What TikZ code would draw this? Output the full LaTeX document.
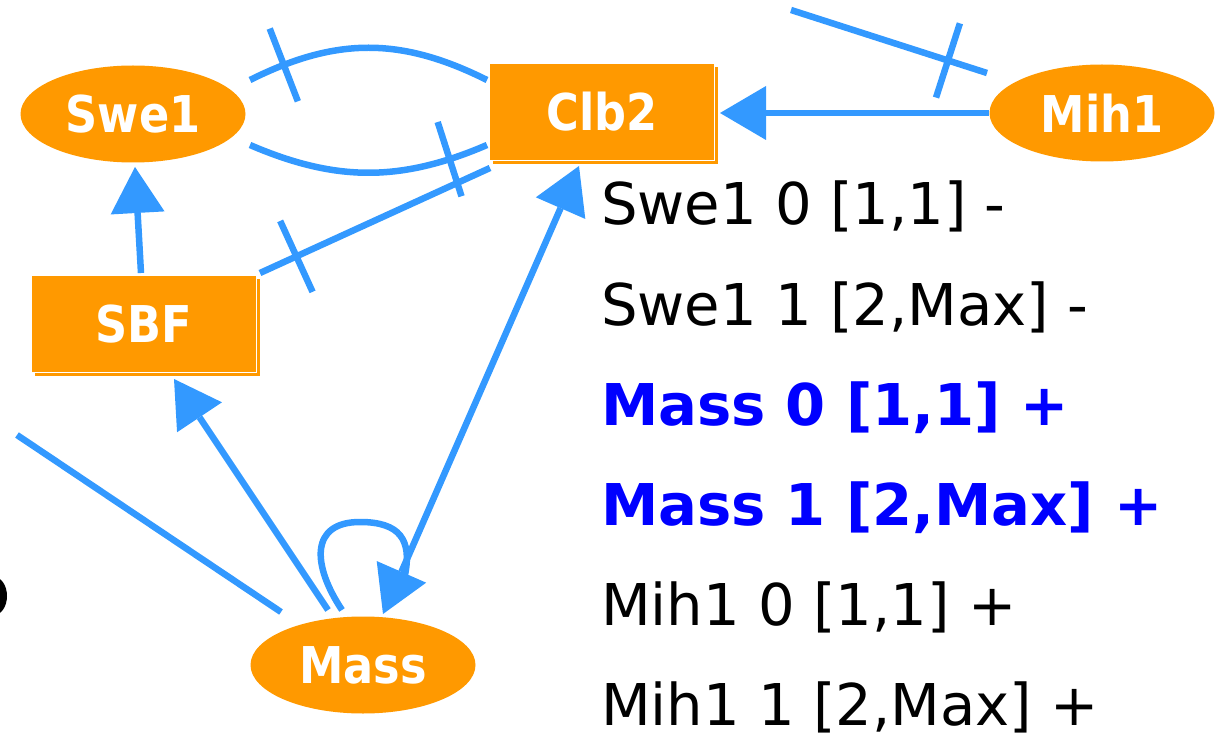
\documentclass[tikz,border=0pt]{standalone}
\usepackage{fontspec}
\setmainfont{DejaVu Sans}
\newfontfamily\labelfont{DejaVu Sans}[FakeStretch=0.88]
\usetikzlibrary{arrows.meta,shapes.geometric,shadows,decorations.markings}

\definecolor{gblue}{HTML}{3399FF}
\definecolor{gorange}{HTML}{FF9900}

\begin{document}
\begin{tikzpicture}[x=1pt,y=-1pt,
  >={Triangle[length=46pt,width=54pt,line width=0pt]},
  labeltext/.style={text=white, font=\labelfont\bfseries\fontsize{50.7pt}{56pt}\selectfont},
  species/.style={ellipse, fill=gorange, minimum width=225pt, minimum height=97pt,
    inner sep=0pt, labeltext},
  complex/.style={rectangle, fill=gorange, draw=white, line width=1.6pt,
    minimum width=225pt, minimum height=97pt, inner sep=0pt, labeltext,
    drop shadow={shadow xshift=3.5pt, shadow yshift=-3.5pt, fill=gorange, opacity=1}},
  link/.style={draw=gblue, line width=6.5pt},
  inhib/.style={link, postaction={decorate},
    decoration={markings, mark=at position #1 with
      {\draw[gblue, line width=6.5pt] (0pt,-39pt) -- (0pt,39pt);}}},
  rule/.style={anchor=base west, inner sep=0pt,
    font=\fontsize{57.6pt}{60pt}\selectfont},
  keyrule/.style={rule, text=blue, font=\bfseries\fontsize{57.6pt}{60pt}\selectfont}
]
\useasboundingbox (0,0) rectangle (1220,735);

% species and complexes
\node[species] (swe1) at (133,114) {Swe1};
\node[complex] (clb2) at (602,112) {Clb2};
\node[species] (mih1) at (1102,113) {Mih1};
\node[complex] (sbf) at (144,324) {SBF};
\node[species] (mass) at (363,665) {Mass};

% loose ends of edges leaving the frame
\coordinate (topfree) at (791,10);
\coordinate (leftfree) at (17,435);

% partial dot at the left border
\fill[black] (-6,596) ellipse [x radius=13pt, y radius=19pt];

% inhibitions
\draw[inhib=37pt] ([shift={(117,-34)}]swe1.center)
  .. controls +(86,-43) and +(-86,-43) .. ([shift={(-115,-32)}]clb2.center);
\draw[inhib=-40pt] ([shift={(117,31)}]swe1.center)
  .. controls +(86,37) and +(-86,37) .. ([shift={(-115,33)}]clb2.center);
\draw[inhib=40pt] ([shift={(116,-51)}]sbf.center) -- ([shift={(-112,56)}]clb2.center);
\draw[inhib=-41pt] (topfree) -- ([shift={(-115,-40)}]mih1.center);
\draw[link] (leftfree) -- ([shift={(-82,-53)}]mass.center);

% activations
\draw[link,->] ([shift={(-113,0)}]mih1.center) -- ([shift={(118,1)}]clb2.center);
\draw[link,->] ([shift={(-3,-51)}]sbf.center) -- ([shift={(2,53)}]swe1.center);
\draw[link,->] ([shift={(-35,-55)}]mass.center) -- ([shift={(30,55)}]sbf.center);

% self loop on Mass
\draw[link] ([shift={(-21,-55)}]mass.center)
  .. controls +(-30,-45) and +(-50,0) .. ([shift={(-3,-143)}]mass.center)
  .. controls +(40,0) and +(7,-35) .. ([shift={(42,-90)}]mass.center);
\draw[link,<->] ([shift={(-23,54)}]clb2.center) -- ([shift={(20,-51)}]mass.center);

% rule list
\node[rule] (r1) at (601,225) {Swe1 0 [1,1] -};
\node[rule] (r2) at (601,325) {Swe1 1 [2,Max] -};
\node[keyrule] (r3) at (601,425) {Mass 0 [1,1] +};
\node[keyrule] (r4) at (601,525) {Mass 1 [2,Max] +};
\node[rule] (r5) at (601,625) {Mih1 0 [1,1] +};
\node[rule] (r6) at (601,725) {Mih1 1 [2,Max] +};
\end{tikzpicture}
\end{document}
